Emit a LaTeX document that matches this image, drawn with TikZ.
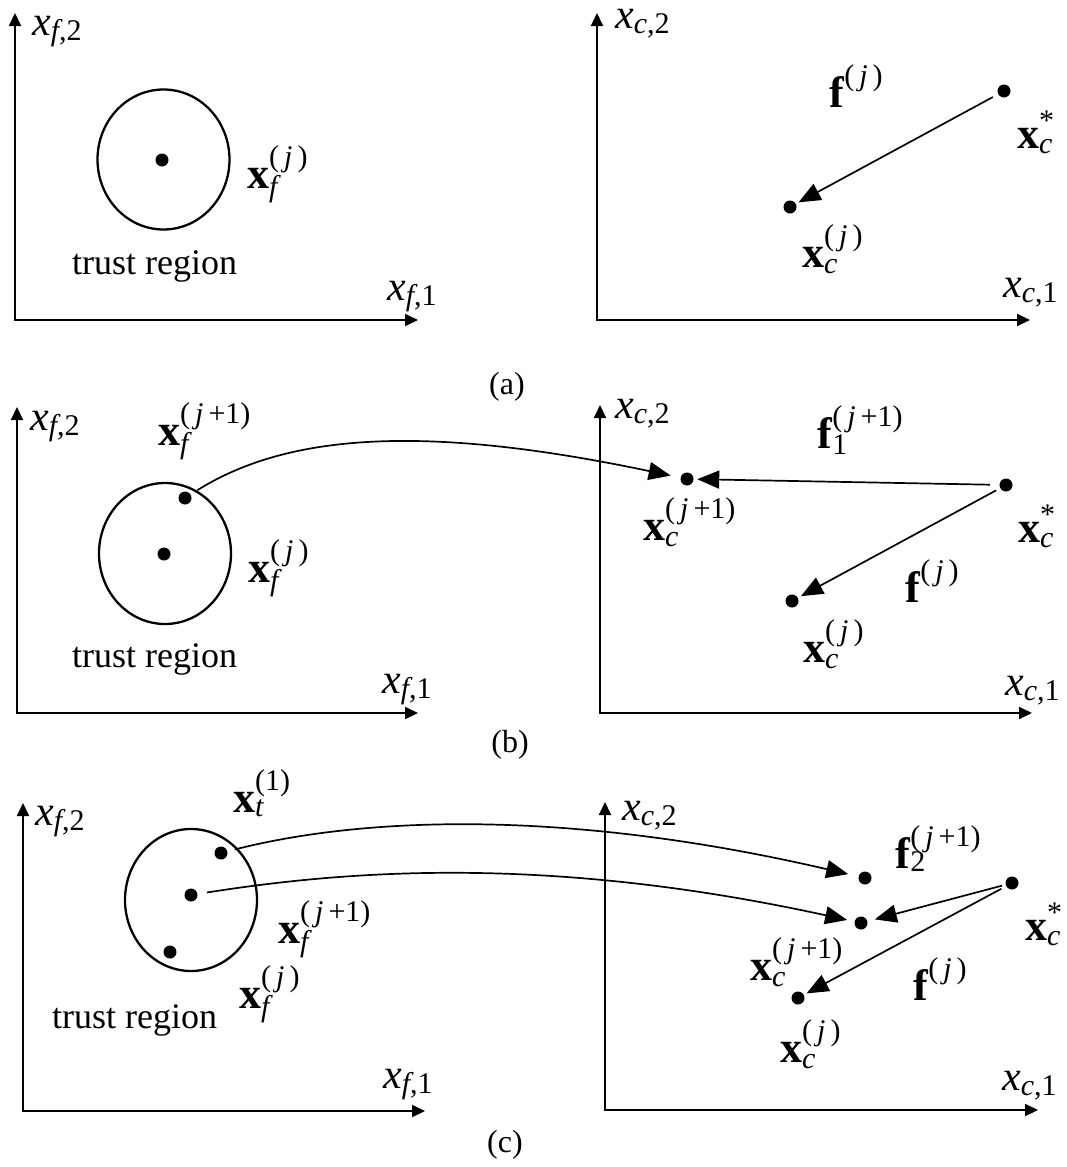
\documentclass[tikz,border=0pt]{standalone}
\usepackage{fontspec}
\setmainfont{Liberation Serif}
\usetikzlibrary{arrows.meta}
\newcommand\scrsz{\fontsize{30}{32}\selectfont}
\newcommand\lblSB[2]{#1\raisebox{-5.5pt}{\scrsz #2}}
\newcommand\lblSS[4][6pt]{#2\makebox[0pt][l]{\raisebox{-#1}{\scrsz #3}}\raisebox{22pt}{\scrsz #4}}
\newcommand\lblStar[2]{#1\makebox[0pt][l]{\raisebox{-5pt}{\scrsz #2}}\raisebox{18pt}{\scrsz *}}
\newcommand\pj{(\,\textit{j}\,)}
\newcommand\pjj{(\,\textit{j}\,+1)}
\begin{document}
\begin{tikzpicture}[x=1pt,y=-1pt,
  axis/.style={line width=2pt,{Triangle[length=13pt,width=12pt]}-{Triangle[length=13pt,width=12pt]}},
  conn/.style={line width=1.7pt,-{Triangle[length=22pt,width=18pt]}},
  dot/.style={circle,fill=black,inner sep=0pt,minimum size=13pt},
  alab/.style={anchor=base west,inner sep=0pt,font=\fontsize{42}{44}\selectfont},
  lbl/.style={anchor=base west,inner sep=0pt,font=\fontsize{44}{46}\selectfont},
  txt/.style={anchor=base west,inner sep=0pt,font=\fontsize{36}{40}\selectfont},
  capt/.style={inner sep=0pt,font=\fontsize{32}{34}\selectfont},
  region/.style={line width=2.3pt}]
\useasboundingbox (0,0) rectangle (1067,1167);

% ================= (a) =================
\coordinate (aL-y) at (15,13); \coordinate (aL-o) at (15,320); \coordinate (aL-x) at (418,320);
\draw[axis] (aL-y) -- (aL-o) -- (aL-x);
\coordinate (aR-y) at (597,13); \coordinate (aR-o) at (597,320); \coordinate (aR-x) at (1030,320);
\draw[axis] (aR-y) -- (aR-o) -- (aR-x);
\draw[region] (163.5,159.5) ellipse [x radius=66pt,y radius=70pt];
\node[dot] (aL-c) at (162,160) {};
\node[dot] (aR-s) at (1004,91) {};
\node[dot] (aR-j) at (790,207) {};
\draw[conn,shorten <=6pt,shorten >=3pt] (aR-s) -- (aR-j);
\node[alab] (aL-lx2) at (32,35) {\smash{\lblSB{\textit{x}}{\textit{f},2}}};
\node[alab] (aL-lx1) at (387,300) {\lblSB{\textit{x}}{\textit{f},1}};
\node[lbl] (aL-lxf) at (247,188) {\lblSS[8pt]{\textbf{x}}{\textit{f}}{\pj}};
\node[txt] (aL-tr) at (72,274) {trust region};
\node[alab] (aR-lx2) at (615,28) {\smash{\lblSB{\textit{x}}{\textit{c},2}}};
\node[lbl] (aR-lxs) at (1017,148) {\lblStar{\textbf{x}}{\textit{c}}};
\node[lbl] (aR-lxj) at (802,267) {\lblSS{\textbf{x}}{\textit{c}}{\pj}};
\node[lbl] (aR-lf) at (829,107) {\lblSS{\textbf{f}}{}{\pj}};
\node[alab] (aR-lx1) at (1003,297) {\lblSB{\textit{x}}{\textit{c},1}};
\node[capt] (capa) at (507,387) {(a)};

% ================= (b) =================
\coordinate (bL-y) at (17,407); \coordinate (bL-o) at (17,713); \coordinate (bL-x) at (418,713);
\draw[axis] (bL-y) -- (bL-o) -- (bL-x);
\coordinate (bR-y) at (600,405); \coordinate (bR-o) at (600,713); \coordinate (bR-x) at (1032,713);
\draw[axis] (bR-y) -- (bR-o) -- (bR-x);
\draw[region] (165,553.5) ellipse [x radius=66pt,y radius=70.5pt];
\node[dot] (bL-c) at (164,554) {};
\node[dot] (bL-u) at (185,498) {};
\node[dot] (bR-j1) at (687,479) {};
\node[dot] (bR-s) at (1006,485) {};
\node[dot] (bR-j) at (792,601) {};
\draw[conn,shorten <=8pt,shorten >=10pt] (bL-u) .. controls (290,432) and (430,425) .. (bR-j1);
\draw[conn,shorten <=9.5pt,shorten >=3.5pt] (bR-s) -- (bR-j1);
\draw[conn,shorten <=4.5pt,shorten >=3.5pt] (bR-s) -- (bR-j);
\node[alab] (bL-lx2) at (30,430) {\lblSB{\textit{x}}{\textit{f},2}};
\node[lbl] (bL-lxj1) at (158,445) {\lblSS[8pt]{\textbf{x}}{\textit{f}}{\pjj}};
\node[lbl] (bL-lxj) at (248,582) {\lblSS[8pt]{\textbf{x}}{\textit{f}}{\pj}};
\node[txt] (bL-tr) at (72,667) {trust region};
\node[alab] (bL-lx1) at (382,693) {\lblSB{\textit{x}}{\textit{f},1}};
\node[alab] (bR-lx2) at (615,418) {\lblSB{\textit{x}}{\textit{c},2}};
\node[lbl] (bR-lf1) at (817,448) {\lblSS{\textbf{f}}{1}{\pjj}};
\node[lbl] (bR-lxj1) at (643,540) {\lblSS{\textbf{x}}{\textit{c}}{\pjj}};
\node[lbl] (bR-lxs) at (1018,542) {\lblStar{\textbf{x}}{\textit{c}}};
\node[lbl] (bR-lf) at (905,602) {\lblSS{\textbf{f}}{}{\pj}};
\node[lbl] (bR-lxj) at (803,662) {\lblSS{\textbf{x}}{\textit{c}}{\pj}};
\node[alab] (bR-lx1) at (1005,695) {\lblSB{\textit{x}}{\textit{c},1}};
\node[capt] (capb) at (510,745) {(b)};

% ================= (c) =================
\coordinate (cL-y) at (23,803); \coordinate (cL-o) at (23,1111); \coordinate (cL-x) at (425,1111);
\draw[axis] (cL-y) -- (cL-o) -- (cL-x);
\coordinate (cR-y) at (605,802); \coordinate (cR-o) at (605,1110); \coordinate (cR-x) at (1038,1110);
\draw[axis] (cR-y) -- (cR-o) -- (cR-x);
\draw[region] (191,900) ellipse [x radius=66pt,y radius=71pt];
\node[dot] (cL-u) at (221,853) {};
\node[dot] (cL-c) at (191,895) {};
\node[dot] (cL-l) at (170,952) {};
\node[dot] (cR-u) at (865,878) {};
\node[dot] (cR-j1) at (861,923) {};
\node[dot] (cR-s) at (1012,883) {};
\node[dot] (cR-j) at (798,998) {};
\draw[conn,shorten <=7.5pt,shorten >=10.5pt] (cL-u) .. controls (350,820) and (550,805) .. (cR-u);
\draw[conn,shorten <=9.5pt,shorten >=7.5pt] (cL-c) .. controls (350,870) and (550,855) .. (cR-j1);
\draw[conn,shorten <=3.5pt,shorten >=7.5pt] (cR-s) -- (cR-j1);
\draw[conn,shorten <=5.5pt,shorten >=3pt] (cR-s) -- (cR-j);
\node[alab] (cL-lx2) at (35,825) {\lblSB{\textit{x}}{\textit{f},2}};
\node[lbl] (cL-lxt) at (233,812) {\lblSS[4pt]{\textbf{x}}{\textit{t}}{(1)}};
\node[lbl] (cL-lxj1) at (278,943) {\lblSS[8pt]{\textbf{x}}{\textit{f}}{\pjj}};
\node[lbl] (cL-lxj) at (239,1008) {\lblSS[8pt]{\textbf{x}}{\textit{f}}{\pj}};
\node[txt] (cL-tr) at (52,1028) {trust region};
\node[alab] (cL-lx1) at (383,1088) {\lblSB{\textit{x}}{\textit{f},1}};
\node[alab] (cR-lx2) at (622,820) {\lblSB{\textit{x}}{\textit{c},2}};
\node[lbl] (cR-lf2) at (895,868) {\lblSS[3pt]{\textbf{f}}{2}{\pjj}};
\node[lbl] (cR-lxs) at (1025,940) {\lblStar{\textbf{x}}{\textit{c}}};
\node[lbl] (cR-lxj1) at (750,980) {\lblSS{\textbf{x}}{\textit{c}}{\pjj}};
\node[lbl] (cR-lf) at (913,1000) {\lblSS{\textbf{f}}{}{\pj}};
\node[lbl] (cR-lxj) at (780,1062) {\lblSS{\textbf{x}}{\textit{c}}{\pj}};
\node[alab] (cR-lx1) at (1002,1090) {\lblSB{\textit{x}}{\textit{c},1}};
\node[capt] (capc) at (505,1145) {(c)};
\end{tikzpicture}
\end{document}
